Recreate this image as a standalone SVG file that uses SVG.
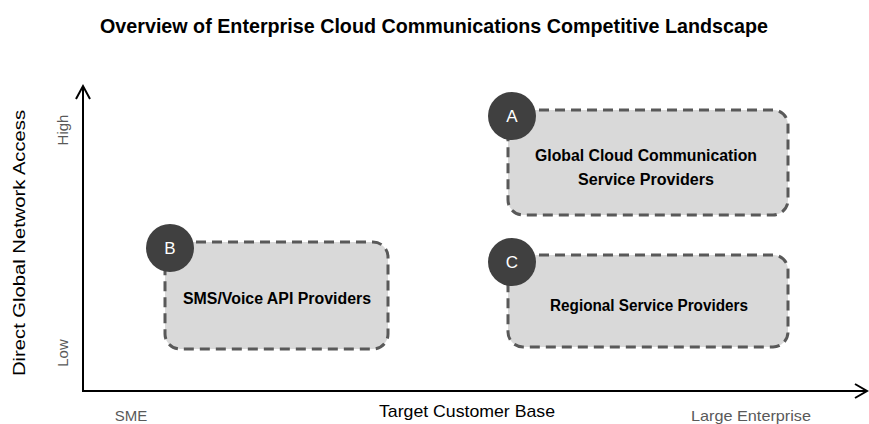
<svg xmlns="http://www.w3.org/2000/svg" width="869" height="424" viewBox="0 0 869 424">
<style>
.box{fill:#d9d9d9;stroke:#595959;stroke-width:3;stroke-dasharray:10 6}
.badge{fill:#404040}
.bl{font-family:"Liberation Sans",Arial,sans-serif;font-size:17px;fill:#fff;text-anchor:middle}
.lbl{font-family:"Liberation Sans",Arial,sans-serif;font-size:16px;font-weight:bold;fill:#000;text-anchor:middle}
.axis{stroke:#000;stroke-width:2;fill:none}
.tick{font-family:"Liberation Sans",Arial,sans-serif;font-size:15px;fill:#595959;text-anchor:middle}
.atitle{font-family:"Liberation Sans",Arial,sans-serif;font-size:17px;fill:#000;text-anchor:middle}
</style>
<rect width="869" height="424" fill="#fff"/>
<text x="434" y="33" font-family="Liberation Sans,Arial,sans-serif" font-size="20.5" font-weight="bold" text-anchor="middle" textLength="668" lengthAdjust="spacingAndGlyphs">Overview of Enterprise Cloud Communications Competitive Landscape</text>
<g id="connectors">
<path class="axis" d="M83 391 V86 M76 99 L83 86 L90 99"/>
<path class="axis" d="M82 391 H867 M855 384 L867 391 L855 398"/>
</g>
<text class="atitle" transform="translate(25 243) rotate(-90)" textLength="266" lengthAdjust="spacingAndGlyphs">Direct Global Network Access</text>
<text class="tick" transform="translate(68 130) rotate(-90)">High</text>
<text class="tick" transform="translate(68 353) rotate(-90)">Low</text>
<text class="tick" x="131" y="421">SME</text>
<text class="atitle" x="467" y="417" textLength="176" lengthAdjust="spacingAndGlyphs">Target Customer Base</text>
<text class="tick" x="751" y="421" textLength="120" lengthAdjust="spacingAndGlyphs">Large Enterprise</text>
<g id="nodeA">
<rect class="box" x="508" y="110" width="280" height="105" rx="15"/>
<circle class="badge" cx="512" cy="116" r="24"/>
<text class="bl" x="512" y="122">A</text>
<text class="lbl" x="646" y="161" textLength="222" lengthAdjust="spacingAndGlyphs">Global Cloud Communication</text>
<text class="lbl" x="646" y="185" textLength="136" lengthAdjust="spacingAndGlyphs">Service Providers</text>
</g>
<g id="nodeB">
<rect class="box" x="165" y="242" width="223" height="107" rx="15"/>
<circle class="badge" cx="170" cy="248" r="24"/>
<text class="bl" x="170" y="254">B</text>
<text class="lbl" x="277" y="304" textLength="188" lengthAdjust="spacingAndGlyphs">SMS/Voice API Providers</text>
</g>
<g id="nodeC">
<rect class="box" x="508" y="255" width="280" height="92" rx="15"/>
<circle class="badge" cx="512" cy="262" r="24"/>
<text class="bl" x="512" y="268">C</text>
<text class="lbl" x="649" y="311" textLength="198" lengthAdjust="spacingAndGlyphs">Regional Service Providers</text>
</g>
</svg>
